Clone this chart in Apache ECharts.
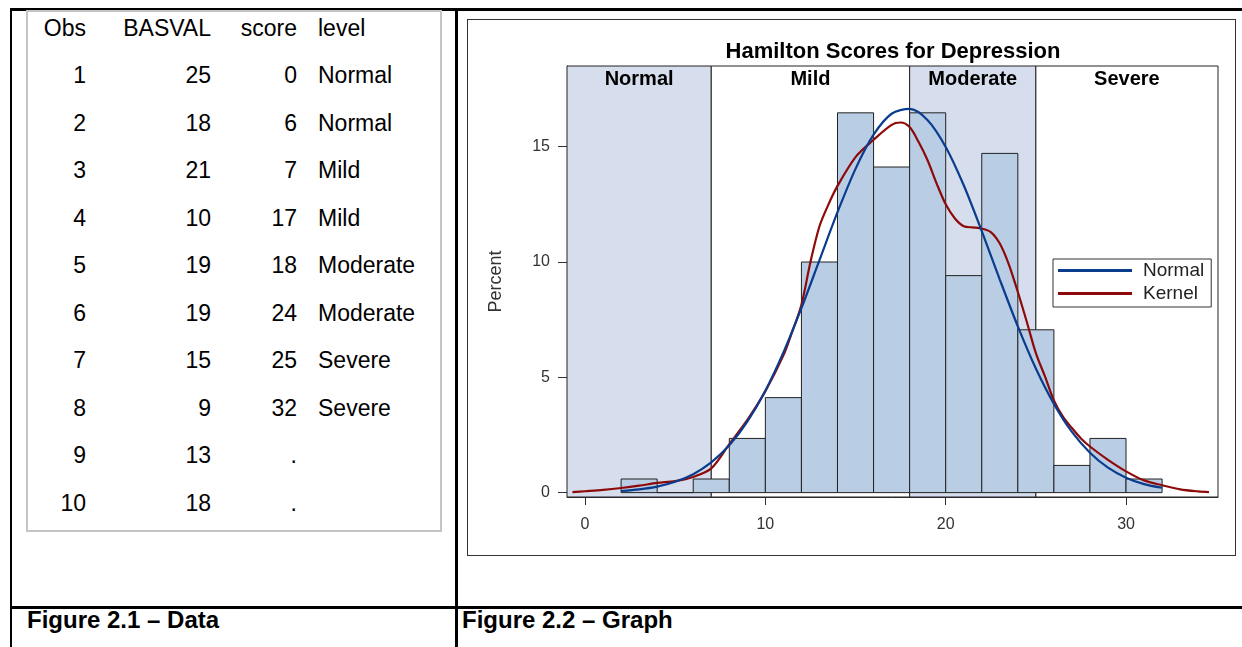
<!DOCTYPE html>
<html><head><meta charset="utf-8">
<script src="https://cdn.jsdelivr.net/npm/echarts@6/dist/echarts.min.js"></script>
<style>
body{margin:0;width:1242px;height:647px;position:relative;overflow:hidden;background:#fff;font-family:"Liberation Sans",Arial,sans-serif;}
.ln{position:absolute;background:#000;}
.cell{position:absolute;font-size:23px;line-height:30px;height:30px;white-space:nowrap;color:#000;}
.r{text-align:right;width:200px;}
.cap{position:absolute;font-weight:bold;font-size:24px;line-height:30px;white-space:nowrap;color:#000;}
#inner{position:absolute;left:26px;top:10px;width:416px;height:522px;border:2px solid #c4c4c4;box-sizing:border-box;}
#frame{position:absolute;left:467px;top:19px;width:769px;height:537px;border:1px solid #333;box-sizing:border-box;}
#chart{position:absolute;left:468px;top:20px;width:766px;height:534px;}
</style></head><body>
<div class="ln" style="left:10px;top:8px;width:1232px;height:3px"></div>
<div class="ln" style="left:10px;top:8px;width:2px;height:639px"></div>
<div class="ln" style="left:455px;top:8px;width:3px;height:639px"></div>
<div class="ln" style="left:10px;top:606px;width:1232px;height:3px"></div>
<div id="inner"></div>
<div id="table"></div>
<div class="cap" style="left:27px;top:605px">Figure 2.1 – Data</div>
<div class="cap" style="left:462px;top:605px">Figure 2.2 – Graph</div>
<div id="frame"></div>
<div id="chart"></div>
<script>
// ---- table data ----
const tableHeaders = ['Obs', 'BASVAL', 'score', 'level'];
const obs = [1, 2, 3, 4, 5, 6, 7, 8, 9, 10];
const basval = [25, 18, 21, 10, 19, 19, 15, 9, 13, 18];
const score = [0, 6, 7, 17, 18, 24, 25, 32, null, null];
const level = ['Normal', 'Normal', 'Mild', 'Mild', 'Moderate', 'Moderate', 'Severe', 'Severe', '', ''];

// ---- chart data ----
const chartTitle = 'Hamilton Scores for Depression';
const xTicks = [0, 10, 20, 30];
const yTicks = [0, 5, 10, 15];
const binStart = [2, 4, 6, 8, 10, 12, 14, 16, 18, 20, 22, 24, 26, 28, 30];
const binPct = [0.59, 0, 0.59, 2.35, 4.12, 10.0, 16.47, 14.12, 16.47, 9.41, 14.71, 7.06, 1.18, 2.35, 0.59];
const binWidth = 2;
const levelNames = ['Normal', 'Mild', 'Moderate', 'Severe'];
const levelEdges = [7, 18, 25];
const normalX = [2, 3, 4, 5, 6, 7, 8, 9, 10, 11, 12, 13, 14, 15, 16, 17, 18, 19, 20, 21, 22, 23, 24, 25, 26, 27, 28, 29, 30, 31, 32];
const normalY = [0.07, 0.14, 0.26, 0.47, 0.8, 1.31, 2.05, 3.08, 4.42, 6.08, 8.0, 10.08, 12.16, 14.04, 15.52, 16.43, 16.64, 16.15, 14.99, 13.33, 11.34, 9.24, 7.21, 5.38, 3.85, 2.63, 1.73, 1.08, 0.65, 0.37, 0.21];
const kernelX = [-0.7, 0, 1, 2, 3, 4, 5, 6, 7, 8, 9, 10, 11, 11.5, 12, 12.5, 13, 13.5, 14, 15, 16, 17, 17.5, 18, 18.5, 19, 19.5, 20, 20.5, 21, 21.5, 22, 22.5, 23, 23.5, 24, 24.5, 25, 25.5, 26, 26.5, 27, 27.5, 28, 29, 30, 31, 32, 33, 34, 34.6];
const kernelY = [0.02, 0.06, 0.12, 0.2, 0.3, 0.42, 0.5, 0.68, 1.05, 2.1, 3.15, 4.4, 5.95, 7.0, 8.15, 10.0, 11.55, 12.5, 13.3, 14.55, 15.3, 15.95, 16.05, 15.85, 15.2, 14.4, 13.4, 12.5, 11.9, 11.55, 11.5, 11.45, 11.3, 10.8, 9.9, 8.7, 7.4, 6.05, 5.05, 4.0, 3.3, 2.8, 2.35, 2.0, 1.42, 0.92, 0.53, 0.32, 0.14, 0.05, 0.02];

// ---- build table ----
(function () {
  const t = document.getElementById('table');
  const cols = [{ right: 86 }, { right: 211 }, { right: 297 }, { left: 318 }];
  function cell(text, col, cy) {
    const d = document.createElement('div');
    d.className = 'cell' + (col.right !== undefined ? ' r' : '');
    d.textContent = text;
    d.style.top = (cy - 15) + 'px';
    if (col.right !== undefined) d.style.left = (col.right - 200) + 'px';
    else d.style.left = col.left + 'px';
    t.appendChild(d);
  }
  tableHeaders.forEach((h, i) => cell(h, cols[i], 28));
  obs.forEach((o, r) => {
    const cy = 75 + r * 47.5;
    cell(String(o), cols[0], cy);
    cell(String(basval[r]), cols[1], cy);
    cell(score[r] === null ? '.' : String(score[r]), cols[2], cy);
    if (level[r]) cell(level[r], cols[3], cy);
  });
})();

// ---- chart ----
const X_MIN = -1, X_MAX = 35.1, Y_MIN = -0.19, Y_MAX = 18.5;
const FONT = '"Liberation Sans", Arial, sans-serif';
const chart = echarts.init(document.getElementById('chart'), null, { renderer: 'canvas' });

const bandData = levelNames.map((n, i) => [
  i === 0 ? X_MIN : levelEdges[i - 1],
  i === levelNames.length - 1 ? X_MAX : levelEdges[i],
  i
]);
const barData = binStart.map((s, i) => [s, s + binWidth, binPct[i]]);

chart.setOption({
  animation: false,
  title: {
    text: chartTitle, left: 425, top: 21, textAlign: 'center', padding: 0,
    textStyle: { fontFamily: FONT, fontWeight: 'bold', fontSize: 22, color: '#000' }
  },
  grid: { left: 99, top: 46, width: 651, height: 431, containLabel: false },
  legend: {
    left: 585, top: 239, orient: 'vertical',
    backgroundColor: '#fff', borderColor: '#333', borderWidth: 1,
    padding: [2, 7, 4, 5], itemGap: 4, itemWidth: 74, itemHeight: 3, icon: 'rect',
    textStyle: { fontFamily: FONT, fontSize: 19, color: '#222', padding: [0, 0, 0, 6] },
    data: ['Normal', 'Kernel']
  },
  xAxis: {
    type: 'value', min: X_MIN, max: X_MAX,
    axisLine: { show: true, onZero: false, lineStyle: { color: '#333', width: 1 } },
    axisTick: { show: true, length: 8, customValues: xTicks, lineStyle: { color: '#333' } },
    axisLabel: { customValues: xTicks, margin: 20, fontFamily: FONT, fontSize: 16, color: '#333' },
    splitLine: { show: false }
  },
  yAxis: {
    type: 'value', min: Y_MIN, max: Y_MAX,
    name: 'Percent', nameLocation: 'middle', nameRotate: 90, nameGap: 62,
    nameTextStyle: { fontFamily: FONT, fontSize: 18, color: '#333' },
    axisLine: { show: true, onZero: false, lineStyle: { color: '#333', width: 1 } },
    axisTick: { show: true, length: 9, customValues: yTicks, lineStyle: { color: '#333' } },
    axisLabel: { customValues: yTicks, margin: 17, fontFamily: FONT, fontSize: 16, color: '#333' },
    splitLine: { show: false }
  },
  series: [
    {
      type: 'custom', name: 'bands', z: 1, silent: true, clip: false,
      data: bandData,
      renderItem: function (params, api) {
        const x0 = api.value(0), x1 = api.value(1), idx = api.value(2);
        const tl = api.coord([x0, Y_MAX]);
        const br = api.coord([x1, Y_MIN]);
        return {
          type: 'group',
          children: [
            { type: 'rect', shape: { x: tl[0], y: tl[1], width: br[0] - tl[0], height: br[1] - tl[1] },
              style: { fill: idx % 2 === 0 ? '#D6DDED' : '#FFFFFF', stroke: '#222', lineWidth: 1 } },
            { type: 'text', x: (tl[0] + br[0]) / 2, y: tl[1] + 13,
              style: { text: levelNames[idx], align: 'center', verticalAlign: 'middle',
                       font: 'bold 20px ' + FONT, fill: '#000' } }
          ]
        };
      }
    },
    {
      type: 'custom', name: 'hist', z: 2, silent: true,
      data: barData,
      renderItem: function (params, api) {
        const p0 = api.coord([api.value(0), api.value(2)]);
        const p1 = api.coord([api.value(1), 0]);
        return {
          type: 'rect',
          shape: { x: p0[0], y: p0[1], width: p1[0] - p0[0], height: p1[1] - p0[1] },
          style: { fill: '#B9CDE5', stroke: '#222', lineWidth: 1 }
        };
      }
    },
    {
      type: 'line', name: 'Normal', z: 4, smooth: 0.3, showSymbol: false, symbol: 'none',
      color: '#0A3C8E',
      lineStyle: { color: '#0A3C8E', width: 2.2 },
      data: normalX.map((x, i) => [x, normalY[i]])
    },
    {
      type: 'line', name: 'Kernel', z: 3, smooth: 0.3, showSymbol: false, symbol: 'none',
      color: '#8E0A0A',
      lineStyle: { color: '#8E0A0A', width: 2.2 },
      data: kernelX.map((x, i) => [x, kernelY[i]])
    }
  ]
});
</script>
</body></html>
